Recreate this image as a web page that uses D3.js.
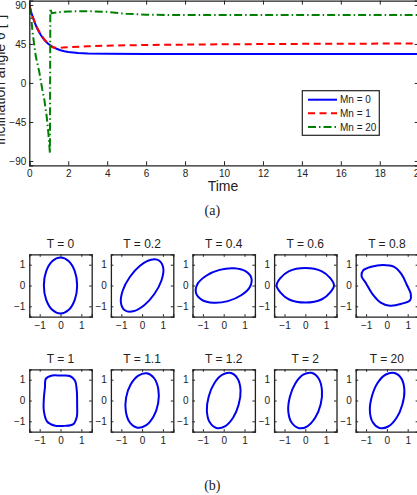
<!DOCTYPE html>
<html>
<head>
<meta charset="utf-8">
<script src="https://cdn.jsdelivr.net/npm/d3@7"></script>
<style>
  html, body { margin: 0; padding: 0; background: #fff; }
  svg { display: block; }
  text { font-family: "Liberation Sans", Arial, Helvetica, sans-serif; fill: #222; }
  .serif { font-family: "Liberation Serif", "DejaVu Serif", serif; }
</style>
</head>
<body>
<script>
// ---------- DATA ----------
const timeTicks = [0, 2, 4, 6, 8, 10, 12, 14, 16, 18, 20];
const angleTicks = [90, 45, 0, -45, -90];
const seriesNames = ["Mn = 0", "Mn = 1", "Mn = 20"];

const mn0Time  = [0, 0.1, 0.2, 0.3, 0.4, 0.5, 0.6, 0.7, 0.8, 0.9, 1.0, 1.2, 1.4, 1.6, 1.8, 2.0, 2.5, 3, 4, 6, 10, 20];
const mn0Angle = [90, 81.6, 74.4, 68.3, 63.1, 58.7, 55, 51.8, 49, 46.7, 44.7, 41.6, 39.4, 37.8, 36.6, 35.7, 34.5, 33.9, 33.6, 33.5, 33.5, 33.5];

const mn1Time  = [0, 0.1, 0.2, 0.3, 0.4, 0.5, 0.6, 0.7, 0.8, 0.9, 1.0, 1.1, 1.2, 1.4, 1.7, 2, 3, 4, 6, 10, 15, 20];
const mn1Angle = [90, 82, 75, 69, 64, 59.5, 56, 52.5, 49.5, 47, 45, 42.5, 41.2, 40.6, 40.8, 41.3, 42.2, 43, 43.8, 44.6, 45.2, 45.5];

const mn20Time  = [0, 0.1, 0.17, 0.33, 0.51, 0.67, 0.77, 0.89, 0.98, 1.06, 1.08, 1.15, 1.5, 2, 3, 4, 5, 6, 7, 20];
const mn20Angle = [88, 75, 58, 31, 13, -8, -19, -38, -58, -81, 86, 80.5, 81.5, 82.5, 82.8, 82, 79.8, 78.8, 78.4, 78.4];

const shapeTicks = [-1, 0, 1];
const shapeTitles = ["T = 0", "T = 0.2", "T = 0.4", "T = 0.6", "T = 0.8",
                     "T = 1", "T = 1.1", "T = 1.2", "T = 2", "T = 20"];
const shapeT0   = [[0,1.35],[0.4,1.17],[0.69,0.68],[0.8,0],[0.69,-0.68],[0.4,-1.17],[0,-1.35],[-0.4,-1.17],[-0.69,-0.68],[-0.8,0],[-0.69,0.68],[-0.4,1.17]];
const shapeT02  = [[0.83,1.19],[0.43,1.24],[-0.1,0.95],[-0.59,0.41],[-0.93,-0.24],[-1.02,-0.82],[-0.83,-1.19],[-0.43,-1.24],[0.1,-0.95],[0.59,-0.41],[0.93,0.24],[1.02,0.82]];
const shapeT04  = [[1.33,0.36],[1.05,0.69],[0.49,0.83],[-0.2,0.75],[-0.84,0.47],[-1.26,0.07],[-1.33,-0.36],[-1.05,-0.69],[-0.49,-0.83],[0.2,-0.75],[0.84,-0.47],[1.26,-0.07]];
const shapeT06  = [[1.38,0],[1.2,0.35],[0.8,0.68],[0,0.84],[-0.8,0.68],[-1.2,0.35],[-1.38,0],[-1.2,-0.33],[-0.8,-0.66],[0,-0.82],[0.8,-0.66],[1.2,-0.33]];
const shapeT08  = [[-1.15,0.72],[-0.75,0.9],[-0.2,0.99],[0.35,0.9],[0.7,0.55],[0.95,0.05],[1.15,-0.42],[1.12,-0.7],[0.7,-0.88],[0.15,-0.97],[-0.3,-0.82],[-0.7,-0.4],[-1.0,0.1],[-1.22,0.45]];
const shapeT1   = [[0,1.2],[0.45,1.18],[0.7,0.95],[0.78,0.5],[0.8,-0.2],[0.78,-0.8],[0.6,-1.15],[0.2,-1.22],[-0.3,-1.2],[-0.65,-1.0],[-0.8,-0.5],[-0.8,0.1],[-0.75,0.6],[-0.7,1.05],[-0.4,1.2]];
const shapeT11  = [[0.23,1.31],[-0.18,1.2],[-0.55,0.77],[-0.77,0.14],[-0.78,-0.54],[-0.58,-1.07],[-0.23,-1.31],[0.18,-1.2],[0.55,-0.77],[0.77,-0.14],[0.78,0.54],[0.58,1.07]];
const shapeT12  = [[0.35,1.32],[-0.06,1.24],[-0.45,0.83],[-0.72,0.19],[-0.81,-0.49],[-0.67,-1.05],[-0.35,-1.32],[0.06,-1.24],[0.45,-0.83],[0.72,-0.19],[0.81,0.49],[0.67,1.05]];
const shapeT2   = [[0.3,1.33],[-0.1,1.24],[-0.48,0.82],[-0.74,0.18],[-0.82,-0.5],[-0.66,-1.06],[-0.3,-1.33],[0.1,-1.24],[0.48,-0.82],[0.74,-0.18],[0.8,0.5],[0.64,1.06]];
const shapeT20  = [[0.36,1.32],[-0.05,1.25],[-0.45,0.84],[-0.72,0.2],[-0.82,-0.48],[-0.68,-1.05],[-0.36,-1.32],[0.06,-1.25],[0.46,-0.84],[0.74,-0.2],[0.84,0.48],[0.7,1.05]];
const shapes = [shapeT0, shapeT02, shapeT04, shapeT06, shapeT08, shapeT1, shapeT11, shapeT12, shapeT2, shapeT20];

// ---------- DRAW ----------
const W = 417, H = 495;
const svg = d3.select("body").append("svg").attr("width", W).attr("height", H);
const axisColor = "#222";

// ===== Top chart =====
const x = d3.scaleLinear().domain([0, 20]).range([29.3, 418.7]);
const y = d3.scaleLinear().domain([-95, 95]).range([165.3, 0.6]);
const topG = svg.append("g");

svg.append("clipPath").attr("id", "clipTop")
  .append("rect").attr("x", x(0)).attr("y", y(95)).attr("width", x(20) - x(0)).attr("height", y(-95) - y(95));

function lineData(ts, vs) { return ts.map((t, i) => [t, vs[i]]); }
const line = d3.line().x(d => x(d[0])).y(d => y(d[1]));

const series = [
  { name: seriesNames[0], data: lineData(mn0Time, mn0Angle), color: "#0000ff", dash: null },
  { name: seriesNames[1], data: lineData(mn1Time, mn1Angle), color: "#ff0000", dash: "7,4.5" },
  { name: seriesNames[2], data: lineData(mn20Time, mn20Angle), color: "#008000", dash: "8,3,1.5,3" }
];

const plotG = topG.append("g").attr("clip-path", "url(#clipTop)");
series.forEach(s => {
  plotG.append("path").datum(s.data)
    .attr("d", line)
    .attr("fill", "none")
    .attr("stroke", s.color)
    .attr("stroke-width", 2)
    .attr("stroke-dasharray", s.dash);
});

// axes (inward ticks all around)
const tick = 4;
topG.append("g").attr("transform", `translate(0,${y(-95)})`)
  .call(d3.axisBottom(x).tickValues(timeTicks).tickSize(-tick).tickPadding(5).tickFormat(d3.format("d")))
  .call(g => { g.select(".domain").attr("stroke", axisColor).attr("stroke-width", 1.3); g.selectAll("line").attr("stroke", axisColor); g.selectAll("text").attr("font-size", 10).attr("fill", "#222"); });
topG.append("g").attr("transform", `translate(0,${y(95)})`)
  .call(d3.axisTop(x).tickValues(timeTicks).tickSize(-tick).tickFormat(""))
  .call(g => { g.select(".domain").attr("stroke", axisColor).attr("stroke-width", 1.3); g.selectAll("line").attr("stroke", axisColor); });
topG.append("g").attr("transform", `translate(${x(0)},0)`)
  .call(d3.axisLeft(y).tickValues(angleTicks).tickSize(-tick).tickPadding(3).tickFormat(d3.format("d")))
  .call(g => { g.select(".domain").attr("stroke", axisColor).attr("stroke-width", 1.3); g.selectAll("line").attr("stroke", axisColor); g.selectAll("text").attr("font-size", 10).attr("fill", "#222"); });
topG.append("g").attr("transform", `translate(${x(20)},0)`)
  .call(d3.axisRight(y).tickValues(angleTicks).tickSize(-tick).tickFormat(""))
  .call(g => { g.select(".domain").attr("stroke", axisColor).attr("stroke-width", 1.3); g.selectAll("line").attr("stroke", axisColor); });

// axis labels
topG.append("text").attr("x", (x(0) + x(20)) / 2 - 1).attr("y", 191)
  .attr("text-anchor", "middle").attr("font-size", 14).text("Time");
topG.append("text").attr("transform", "translate(5,80) rotate(-90)")
  .attr("text-anchor", "middle").attr("font-size", 14).text("Inclination angle θ [°]");
svg.append("text").attr("class", "serif").attr("x", 212.3).attr("y", 214.5)
  .attr("text-anchor", "middle").attr("font-size", 14).text("(a)");

// legend
const lg = topG.append("g");
lg.append("rect").attr("x", 302.3).attr("y", 90.7).attr("width", 77).attr("height", 44.6)
  .attr("fill", "#fff").attr("stroke", axisColor).attr("stroke-width", 1.2);
series.forEach((s, i) => {
  const ly = 99.7 + i * 13.65;
  lg.append("line").attr("x1", 308).attr("x2", 337).attr("y1", ly).attr("y2", ly)
    .attr("stroke", s.color).attr("stroke-width", 2).attr("stroke-dasharray", s.dash);
  lg.append("text").attr("x", 340).attr("y", ly + 3.6).attr("font-size", 10).text(s.name);
});

// ===== Small shape panels =====
const boxSize = 62.4;
const lefts = [29.3, 110.9, 192.5, 274.1, 355.7];
const tops = [254.3, 369.3];
const shapeLine = d3.line().curve(d3.curveCatmullRomClosed.alpha(0.5));

shapes.forEach((pts, i) => {
  const row = Math.floor(i / 5), col = i % 5;
  const L = lefts[col], T = tops[row];
  const sx = d3.scaleLinear().domain([-1.5, 1.5]).range([L, L + boxSize]);
  const sy = d3.scaleLinear().domain([-1.5, 1.5]).range([T + boxSize, T]);
  const g = svg.append("g");
  g.append("path")
    .attr("d", shapeLine.x(d => sx(d[0])).y(d => sy(d[1]))(pts))
    .attr("fill", "none").attr("stroke", "#0000ee").attr("stroke-width", 2);
  const st = 2.5;
  g.append("g").attr("transform", `translate(0,${T + boxSize})`)
    .call(d3.axisBottom(sx).tickValues(shapeTicks).tickSize(-st).tickPadding(5).tickFormat(d3.format("d")))
    .call(a => { a.select(".domain").attr("stroke", axisColor).attr("stroke-width", 1.3); a.selectAll("line").attr("stroke", axisColor); a.selectAll("text").attr("font-size", 10).attr("fill", "#222"); });
  g.append("g").attr("transform", `translate(0,${T})`)
    .call(d3.axisTop(sx).tickValues(shapeTicks).tickSize(-st).tickFormat(""))
    .call(a => { a.select(".domain").attr("stroke", axisColor).attr("stroke-width", 1.3); a.selectAll("line").attr("stroke", axisColor); });
  g.append("g").attr("transform", `translate(${L},0)`)
    .call(d3.axisLeft(sy).tickValues(shapeTicks).tickSize(-st).tickPadding(4).tickFormat(d3.format("d")))
    .call(a => { a.select(".domain").attr("stroke", axisColor).attr("stroke-width", 1.3); a.selectAll("line").attr("stroke", axisColor); a.selectAll("text").attr("font-size", 10).attr("fill", "#222"); });
  g.append("g").attr("transform", `translate(${L + boxSize},0)`)
    .call(d3.axisRight(sy).tickValues(shapeTicks).tickSize(-st).tickFormat(""))
    .call(a => { a.select(".domain").attr("stroke", axisColor).attr("stroke-width", 1.3); a.selectAll("line").attr("stroke", axisColor); });
  g.append("text").attr("x", L + boxSize / 2).attr("y", T - 6.5)
    .attr("text-anchor", "middle").attr("font-size", 12).text(shapeTitles[i]);
});

svg.append("text").attr("class", "serif").attr("x", 212.3).attr("y", 489.5)
  .attr("text-anchor", "middle").attr("font-size", 14).text("(b)");
</script>
</body>
</html>
